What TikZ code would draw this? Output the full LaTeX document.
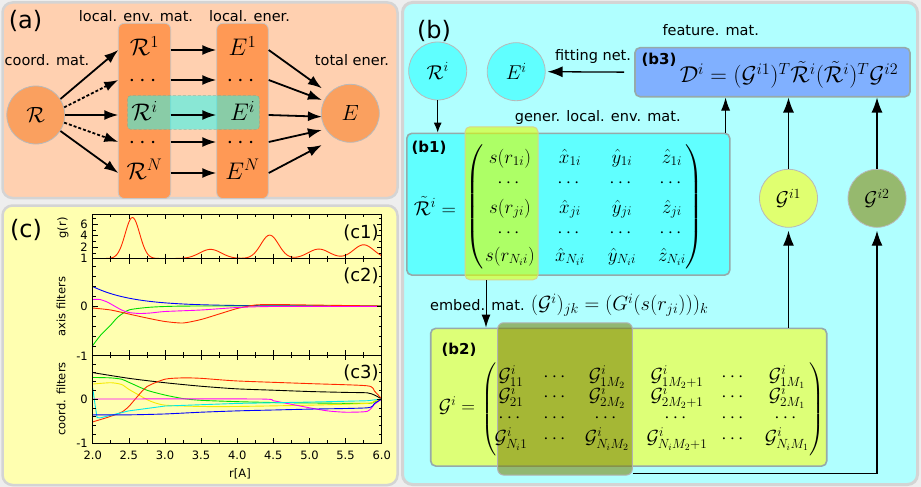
\RequirePackage{fix-cm}
\documentclass[tikz,border=0pt]{standalone}
\usepackage{amsmath}
\usepackage[no-math]{fontspec}
\setmainfont{DejaVu Sans}
\usetikzlibrary{arrows.meta}
\definecolor{bgc}{RGB}{238,238,238}
\definecolor{framec}{RGB}{212,212,212}
\definecolor{peach}{RGB}{255,208,176}
\definecolor{orng}{RGB}{255,153,85}
\definecolor{orcirc}{RGB}{250,160,95}
\definecolor{panelc}{RGB}{255,255,176}
\definecolor{panelb}{RGB}{176,255,255}
\definecolor{cyanbox}{RGB}{96,255,255}
\definecolor{tealhl}{RGB}{20,255,250}
\definecolor{tealedge}{RGB}{110,170,150}
\definecolor{bluebox}{RGB}{128,176,255}
\definecolor{limebox}{RGB}{221,255,119}
\definecolor{hlyellow}{RGB}{225,255,0}
\definecolor{hlolive}{RGB}{120,125,0}
\definecolor{gonec}{RGB}{224,255,112}
\definecolor{gtwoc}{RGB}{150,185,110}
\definecolor{boxedge}{RGB}{150,170,170}
\definecolor{pred}{RGB}{255,40,0}
\definecolor{pgreen}{RGB}{0,220,0}
\definecolor{pyellow}{RGB}{245,235,0}
\definecolor{pblue}{RGB}{0,0,255}
\definecolor{pmag}{RGB}{255,0,255}
\definecolor{pcyan}{RGB}{0,235,235}
\newcommand\fsz[1]{\fontsize{#1pt}{#1pt}\selectfont}
\begin{document}
\begin{tikzpicture}[x=1pt,y=-1pt,
  panel/.style={draw=framec, line width=2.5pt, rounded corners=10pt},
  colbox/.style={fill=orng, draw=gray!45, line width=0.8pt, rounded corners=6pt},
  ibox/.style={draw=boxedge, line width=1.6pt, rounded corners=5pt, inner sep=0pt},
  circ/.style={circle, draw=gray!55, line width=0.8pt, minimum size=58pt, inner sep=0pt},
  rowa/.style={minimum width=52pt, inner sep=0pt, text height=16pt, text depth=4pt, font=\fsz{24}},
  lbl/.style={inner sep=0pt, font=\fsz{14.5}},
  bigl/.style={inner sep=0pt, font=\fsz{24}},
  boldl/.style={inner sep=0pt, font=\fsz{15}\bfseries},
  arrA/.style={line width=1.8pt, -{Latex[length=14pt,width=10pt]}},
  dashA/.style={dash pattern=on 3pt off 2pt},
  arrS/.style={line width=1pt, -{Latex[length=10pt,width=8pt]}},
  arrM/.style={line width=1pt, -{Latex[length=13pt,width=9pt]}},
  arrL/.style={line width=1.3pt, -{Latex[length=15pt,width=11pt]}},
  mb/.style={inner sep=0pt, anchor=base, font=\fsz{19}},
  mg/.style={inner sep=0pt, anchor=base, font=\fsz{19}},
  pl/.style={line width=0.9pt},
  tk/.style={line width=0.6pt},
  tklab/.style={inner sep=0pt, font=\fsz{11.5}},
]
\useasboundingbox (0,0) rectangle (921,487);
\fill[bgc] (0,0) rectangle (921,487);

% ---------------- panel (a)
\draw[panel, fill=peach] (2.5,2.5) rectangle (397.5,198);
\draw[colbox] (118.3,23.3) rectangle (170.7,198.5);
\draw[colbox] (216.7,23.3) rectangle (268.3,198.5);
\draw[fill=tealhl, fill opacity=0.5, draw=tealedge, draw opacity=0.6, densely dashed, line width=0.5pt, rounded corners=3pt] (127.7,95.7) rectangle (259.3,129.3);

\node[bigl] (ta) at (25.5,21) {(a)};
\node[lbl] (tlenv) at (136,16) {local. env. mat.};
\node[lbl] (tlen) at (249.5,16) {local. ener.};
\node[lbl] (tcoord) at (47,60) {coord. mat.};
\node[lbl] (ttot) at (352,60) {total ener.};

\node[circ, fill=orcirc, font=\fsz{22}] (Rc) at (35.8,115) {$\mathcal{R}$};
\node[circ, fill=orcirc, font=\fsz{22}] (Ec) at (350.3,113.3) {$E$};

\node[rowa] (r1) at (144.5,50) {$\mathcal{R}^1$};
\node[rowa] (rd1) at (144.5,80) {$\cdots$};
\node[rowa] (ri) at (144.5,115) {$\mathcal{R}^i$};
\node[rowa] (rd2) at (144.5,142) {$\cdots$};
\node[rowa] (rN) at (144.5,173) {$\mathcal{R}^N$};
\node[rowa] (e1) at (242.5,50) {$E^1$};
\node[rowa] (ed1) at (242.5,80) {$\cdots$};
\node[rowa] (ei) at (242.5,115) {$E^i$};
\node[rowa] (ed2) at (242.5,142) {$\cdots$};
\node[rowa] (eN) at (242.5,173) {$E^N$};

\draw[arrA] (Rc.33) -- (r1.west);
\draw[arrA, dashA] (Rc.15) -- (rd1.west);
\draw[arrA] (Rc.0) -- (ri.west);
\draw[arrA, dashA] (Rc.-15) -- (rd2.west);
\draw[arrA] (Rc.-33) -- (rN.west);
\draw[arrA] (r1.east) -- (e1.west);
\draw[arrA] (rd1.east) -- (ed1.west);
\draw[arrA] (ri.east) -- (ei.west);
\draw[arrA] (rd2.east) -- (ed2.west);
\draw[arrA] (rN.east) -- (eN.west);
\draw[arrA] (e1.east) -- ([yshift=25pt,xshift=1pt]Ec.west);
\draw[arrA] (ed1.east) -- ([yshift=13.3pt,xshift=1pt]Ec.west);
\draw[arrA] (ei.east) -- ([yshift=-3.4pt,xshift=1pt]Ec.west);
\draw[arrA] (ed2.east) -- ([yshift=-16.7pt,xshift=1pt]Ec.west);
\draw[arrA] (eN.east) -- ([yshift=-31.7pt,xshift=1pt]Ec.west);

% ---------------- panel (c)
\draw[panel, fill=panelc] (2.5,205.5) rectangle (397.5,485);
\node[bigl] (tc) at (26,230) {(c)};

\begin{scope}[shift={(-51.8,258.5)}, x=72.25pt, y=5.7pt]
\draw[pl, pred] plot[domain=2:6, samples=241] (\x, {7.2*exp(-min(20,(\x-2.55)*(\x-2.55)/0.02)) + 1.6*exp(-min(20,(\x-3.63)*(\x-3.63)/0.045)) + 4.1*exp(-min(20,(\x-4.45)*(\x-4.45)/0.03)) + 1.65*exp(-min(20,(\x-5.13)*(\x-5.13)/0.045)) + 2.4*exp(-min(20,(\x-5.75)*(\x-5.75)/0.04))});
\end{scope}

\begin{scope}[shift={(-51.8,306)}, x=72.25pt, y=50pt]
\draw[pl, pblue] plot[domain=2:6, samples=100] (\x, {0.39*exp(-(\x-2)/0.55)});
\draw[pl, pgreen] plot[smooth, tension=0.4] coordinates {(2.0,-0.79) (2.1,-0.6) (2.2,-0.45) (2.25,-0.38) (2.35,-0.22) (2.5,-0.08) (2.75,-0.03) (3.0,-0.01) (3.5,0) (6,0)};
\draw[pl, pred] plot[smooth, tension=0.4] coordinates {(2.0,-0.04) (2.25,-0.08) (2.5,-0.16) (2.75,-0.24) (3.0,-0.31) (3.25,-0.34) (3.5,-0.27) (3.75,-0.16) (4.0,-0.05) (4.25,0.02) (4.5,0.03) (5,0.02) (5.5,0.01) (6,0)};
\draw[pl, pmag] plot[smooth, tension=0.4] coordinates {(2.0,0.13) (2.1,0.13) (2.2,0.08) (2.3,0.0) (2.4,-0.08) (2.5,-0.13) (2.65,-0.15) (2.8,-0.14) (3.0,-0.11) (3.5,-0.08) (4.0,-0.03) (4.5,-0.01) (6,-0.01)};
\end{scope}

\begin{scope}[shift={(-51.8,399)}, x=72.25pt, y=44pt]
\draw[pl, black] plot[smooth, tension=0.4] coordinates {(2.0,0.6) (2.5,0.47) (3.0,0.37) (3.5,0.29) (4.0,0.23) (4.5,0.2) (5.0,0.17) (5.5,0.15) (5.8,0.14) (5.9,0.09) (6.0,0)};
\draw[pl, pgreen] plot[smooth, tension=0.4] coordinates {(2.0,0.49) (2.25,0.48) (2.4,0.45) (2.5,0.38) (2.75,0.2) (3.0,0.09) (3.25,0.01) (3.5,-0.03) (4.0,-0.06) (4.5,-0.08) (5.0,-0.09) (5.8,-0.1) (5.9,-0.06) (6.0,0)};
\draw[pl, pyellow] plot[smooth, tension=0.4] coordinates {(2.0,0.34) (2.25,0.37) (2.4,0.33) (2.5,0.22) (2.65,0.08) (2.8,-0.05) (3.0,-0.14) (3.5,-0.17) (4.0,-0.17) (5.0,-0.14) (5.8,-0.1) (5.9,-0.05) (6.0,0)};
\draw[pl, pred] plot[smooth, tension=0.4] coordinates {(2.0,-0.52) (2.2,-0.42) (2.4,-0.3) (2.5,-0.17) (2.6,0.02) (2.75,0.28) (3.0,0.45) (3.25,0.48) (3.5,0.47) (4.0,0.41) (5.0,0.35) (5.8,0.3) (5.9,0.18) (6.0,0)};
\draw[pl, pmag] plot[smooth, tension=0.4] coordinates {(2.0,0) (4.3,0) (4.5,-0.04) (4.75,-0.12) (5.0,-0.2) (5.25,-0.27) (5.5,-0.3) (5.8,-0.28) (5.9,-0.12) (6.0,0)};
\draw[pl, pcyan] plot coordinates {(2.0,0.25) (2.03,-0.1) (2.06,-0.42) (2.1,-0.43) (2.3,-0.35) (2.5,-0.27) (3.0,-0.16) (3.5,-0.13) (4.0,-0.1) (5.0,-0.07) (5.8,-0.04) (6.0,0)};
\draw[pl, pblue] plot[smooth, tension=0.4] coordinates {(2.0,-0.36) (2.5,-0.36) (3.0,-0.34) (3.5,-0.3) (4.0,-0.27) (4.5,-0.25) (5.0,-0.23) (5.8,-0.2) (5.9,-0.1) (6.0,0)};
\end{scope}

% frames and ticks
\draw[line width=0.9pt] (92.7,214.3) rectangle (381.7,443.3);
\draw[line width=0.9pt] (92.7,258.5) -- (381.7,258.5);
\draw[line width=0.9pt] (92.7,355) -- (381.7,355);
\foreach \k in {0,2,...,16} {
  \draw[tk] ({92.7+\k*18.0625},443.3) -- ++(0,-5);
  \draw[tk] ({92.7+\k*18.0625},214.3) -- ++(0,5);
  \draw[tk] ({92.7+\k*18.0625},253.5) -- ++(0,10);
  \draw[tk] ({92.7+\k*18.0625},350) -- ++(0,10);
}
\foreach \k in {1,3,...,15} {
  \draw[tk] ({92.7+\k*18.0625},443.3) -- ++(0,-3);
  \draw[tk] ({92.7+\k*18.0625},214.3) -- ++(0,3);
  \draw[tk] ({92.7+\k*18.0625},255.5) -- ++(0,6);
  \draw[tk] ({92.7+\k*18.0625},352) -- ++(0,6);
}
\foreach \g in {2,4,6} {
  \draw[tk] (92.7,{258.5-5.7*\g}) -- ++(5,0);
  \draw[tk] (381.7,{258.5-5.7*\g}) -- ++(-5,0);
}
\foreach \g in {1,3,5,7} {
  \draw[tk] (92.7,{258.5-5.7*\g}) -- ++(3,0);
  \draw[tk] (381.7,{258.5-5.7*\g}) -- ++(-3,0);
}
\foreach \k in {-4,...,4} {
  \draw[tk] (92.7,{306+10*\k}) -- ++(3,0);
  \draw[tk] (381.7,{306+10*\k}) -- ++(-3,0);
  \draw[tk] (92.7,{399+8.8*\k}) -- ++(3,0);
  \draw[tk] (381.7,{399+8.8*\k}) -- ++(-3,0);
}
\draw[tk] (92.7,306) -- ++(5,0) (381.7,306) -- ++(-5,0) (92.7,399) -- ++(5,0) (381.7,399) -- ++(-5,0);

\foreach \k/\lab in {0/2.0,2/2.5,4/3.0,6/3.5,8/4.0,10/4.5,12/5.0,14/5.5,16/6.0} {
  \node[tklab] (xt\k) at ({92.7+\k*18.0625},455) {\lab};
}
\foreach \n/\yy/\lab in {a/224.3/6,b/235.7/4,c/247.1/2,d/258.5/1,e/306/0,f/356/-1,g/399/0,h/443.3/-1} {
  \node[tklab, anchor=east] (yt\n) at (88,\yy) {\lab};
}
\node[tklab, rotate=90] (ylg) at (63,228) {g(r)};
\node[tklab, rotate=90] (ylax) at (61,306.5) {axis filters};
\node[tklab, rotate=90] (ylco) at (61,399) {coord. filters};
\node[tklab] (xlab) at (240,474) {r[A]};
\node[inner sep=0pt, font=\fsz{18}] (cone) at (361,232.5) {(c1)};
\node[inner sep=0pt, font=\fsz{18}] (ctwo) at (361,276) {(c2)};
\node[inner sep=0pt, font=\fsz{18}] (cthree) at (361,373.3) {(c3)};

% ---------------- panel (b)
\draw[panel, line width=3pt, fill=panelb] (402.5,2.5) rectangle (917.5,484.5);
\node[bigl] (tb) at (434,31) {(b)};
\node[lbl] (tfeat) at (710.7,30.5) {feature. mat.};
\node[lbl] (tfit) at (593,56) {fitting net.};
\node[lbl] (tgen) at (597.7,117.5) {gener. local. env. mat.};

\node[ibox, fill=bluebox, minimum width=275pt, minimum height=49pt] (b3) at (772.5,72.2) {};
\node[ibox, fill=cyanbox, minimum width=323pt, minimum height=141.7pt] (b1) at (568.3,204.2) {};
\node[inner sep=0pt, minimum width=73pt, minimum height=153pt, fill=hlyellow, fill opacity=0.6, draw=olive!35, line width=1pt, rounded corners=5pt] (yhl) at (501.5,203.3) {};
\node[ibox, fill=limebox, minimum width=396pt, minimum height=137.7pt] (b2) at (628.7,397.2) {};
\node[inner sep=0pt, minimum width=134.6pt, minimum height=152.3pt, fill=hlolive, fill opacity=0.55, draw=gray!60, line width=1pt, rounded corners=6pt] (olv) at (565,398.9) {};

\node[circ, fill=cyanbox, font=\fsz{20}] (Rbi) at (437.7,71) {$\mathcal{R}^i$};
\node[circ, fill=cyanbox, font=\fsz{20}] (Ebi) at (516.2,71.7) {$E^i$};
\node[circ, fill=gonec, font=\fsz{20}] (Gone) at (788.5,198.3) {$\mathcal{G}^{i1}$};
\node[circ, fill=gtwoc, font=\fsz{20}] (Gtwo) at (877,198.3) {$\mathcal{G}^{i2}$};

\node[boldl] (lbthree) at (659,60) {(b3)};
\node[inner sep=0pt, font=\fsz{23}] (eqD) at (789,75) {$\mathcal{D}^i=(\mathcal{G}^{i1})^T\tilde{\mathcal{R}}^i(\tilde{\mathcal{R}}^i)^T\mathcal{G}^{i2}$};

\node[boldl] (lbone) at (429,148) {(b1)};
\node[mb, font=\fsz{20}] (Rt) at (435,215) {$\tilde{\mathcal{R}}^i=$};
\node[inner sep=0pt, font=\fsz{20}] (bpl) at (475,206.7) {$\left(\vcenter{\hbox{\rule{0pt}{128pt}}}\right.$};
\node[inner sep=0pt, font=\fsz{20}] (bpr) at (694,206.7) {$\left.\vcenter{\hbox{\rule{0pt}{128pt}}}\right)$};
\node[mb] (m11) at (510,163) {$s(r_{1i})$};
\node[mb] (m12) at (570,163) {$\hat{x}_{1i}$};
\node[mb] (m13) at (622,163) {$\hat{y}_{1i}$};
\node[mb] (m14) at (672,163) {$\hat{z}_{1i}$};
\node[mb] (m31) at (510,213) {$s(r_{ji})$};
\node[mb] (m32) at (570,213) {$\hat{x}_{ji}$};
\node[mb] (m33) at (622,213) {$\hat{y}_{ji}$};
\node[mb] (m34) at (672,213) {$\hat{z}_{ji}$};
\node[mb] (m51) at (510,261) {$s(r_{N_ii})$};
\node[mb] (m52) at (570,261) {$\hat{x}_{N_ii}$};
\node[mb] (m53) at (622,261) {$\hat{y}_{N_ii}$};
\node[mb] (m54) at (672,261) {$\hat{z}_{N_ii}$};
\foreach \c/\cx in {1/510,2/570,3/622,4/672} {
  \node[mb] (m2\c) at (\cx,187) {$\cdots$};
  \node[mb] (m4\c) at (\cx,237) {$\cdots$};
}

\node[lbl, anchor=base west] (temb) at (430,310.7) {embed. mat. {\fsz{20.5}$(\mathcal{G}^i)_{jk}=(G^i(s(r_{ji})))_k$}};

\node[boldl] (lbtwo) at (459,349.7) {(b2)};
\node[mg] (Gt) at (457,412) {$\mathcal{G}^i=$};
\node[inner sep=0pt, font=\fsz{19}] (gpl) at (490,409) {$\left(\vcenter{\hbox{\rule{0pt}{93pt}}}\right.$};
\node[inner sep=0pt, font=\fsz{19}] (gpr) at (816,409) {$\left.\vcenter{\hbox{\rule{0pt}{93pt}}}\right)$};
\node[mg] (g11) at (511,381.7) {$\mathcal{G}^i_{11}$};
\node[mg] (g13) at (607,381.7) {$\mathcal{G}^i_{1M_2}$};
\node[mg] (g14) at (677,381.7) {$\mathcal{G}^i_{1M_2+1}$};
\node[mg] (g16) at (787,381.7) {$\mathcal{G}^i_{1M_1}$};
\node[mg] (g21) at (511,401.7) {$\mathcal{G}^i_{21}$};
\node[mg] (g23) at (607,401.7) {$\mathcal{G}^i_{2M_2}$};
\node[mg] (g24) at (677,401.7) {$\mathcal{G}^i_{2M_2+1}$};
\node[mg] (g26) at (787,401.7) {$\mathcal{G}^i_{2M_1}$};
\node[mg] (g41) at (511,443.3) {$\mathcal{G}^i_{N_i1}$};
\node[mg] (g43) at (607,443.3) {$\mathcal{G}^i_{N_iM_2}$};
\node[mg] (g44) at (677,443.3) {$\mathcal{G}^i_{N_iM_2+1}$};
\node[mg] (g46) at (787,443.3) {$\mathcal{G}^i_{N_iM_1}$};
\foreach \r/\ry in {1/381.7,2/401.7,4/443.3} {
  \node[mg] (g\r 2) at (556,\ry) {$\cdots$};
  \node[mg] (g\r 5) at (734,\ry) {$\cdots$};
}
\foreach \c/\cx in {1/511,2/556,3/607,4/677,5/734,6/787} {
  \node[mg] (g3\c) at (\cx,422.8) {$\cdots$};
}

% arrows in (b)
\coordinate (bonetop) at ([xshift=-5pt]b1.north east);
\coordinate (bonebot) at ([xshift=-15.5pt]yhl.south);
\coordinate (gtwostart) at ([yshift=2.3pt]olv.south east);
\draw[arrS] (Rbi.south) -- (Rbi.south |- b1.north);
\draw[arrL, shorten <=10pt, shorten >=2pt] (b3.west) -- (Ebi.east);
\draw[arrM] (bonetop) -- (bonetop |- b3.south);
\draw[arrL] (Gone.north) -- (Gone.north |- b3.south);
\draw[arrL] (Gtwo.north) -- (Gtwo.north |- b3.south);
\draw[arrM] (bonebot) -- (bonebot |- b2.north);
\draw[arrL, shorten >=3pt] (Gone.south |- b2.north) -- (Gone.south);
\draw[arrL, shorten >=3pt] (gtwostart) -| (Gtwo.south);
\end{tikzpicture}
\end{document}
